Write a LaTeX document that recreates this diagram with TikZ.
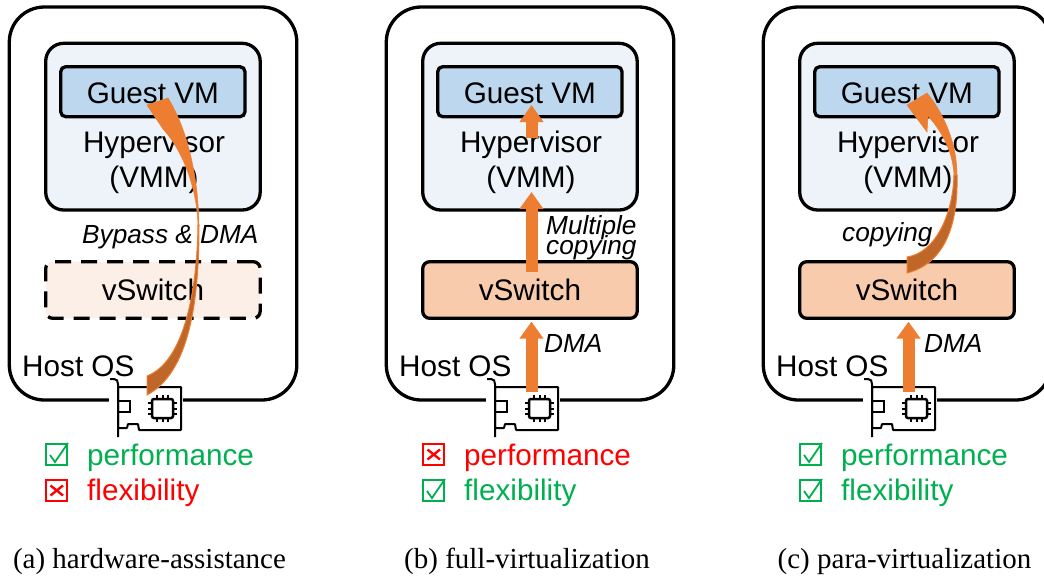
\documentclass[tikz,border=0pt]{standalone}
\usepackage{fontspec}
\setmainfont{Liberation Serif}
\setsansfont{Liberation Sans}
\usetikzlibrary{arrows.meta,positioning}
\definecolor{hyperblue}{HTML}{EEF3FA}
\definecolor{guestblue}{HTML}{BDD7EE}
\definecolor{switchfill}{HTML}{F8CBAD}
\definecolor{switchpale}{HTML}{FBEFE8}
\definecolor{flow}{HTML}{ED7D31}
\definecolor{flowdark}{HTML}{BF6728}
\definecolor{okgreen}{HTML}{00B050}
\tikzset{
  box/.style={draw, line width=3.3pt, rounded corners=9pt, anchor=north west, inner sep=0pt, outer sep=0pt},
  boxtext/.style={font=\sffamily\fontsize{29.7}{35}\selectfont, align=center, inner sep=0pt},
  note/.style={font=\sffamily\itshape\fontsize{26.2}{21}\selectfont, align=left, inner sep=0pt},
  verdict/.style={font=\sffamily\fontsize{29.7}{35}\selectfont, anchor=base west, inner sep=0pt},
  caption/.style={font=\fontsize{29}{34}\selectfont, anchor=base, inner sep=0pt},
  flowarrow/.style={draw=flow, line width=12pt, -{Triangle[width=23pt,length=17pt]}},
  curveback/.style={fill=flow, draw=flow, line width=0.5pt},
  curvefront/.style={fill=flowdark, draw=flow, line width=1pt},
  pics/ticked/.style={code={
    \draw[okgreen, line width=1.4pt] (0,0) rectangle (21,21);
    \draw[okgreen, line width=1.8pt] (4,11) -- (9,18) -- (22,-1);
  }},
  pics/crossed/.style={code={
    \draw[red, line width=1.4pt] (0,0) rectangle (21,21);
    \draw[red, line width=2.4pt] (4.5,5.5) -- (17,15.5) (17,5.5) -- (4.5,15.5);
  }},
  pics/nic/.style={code={
    \fill[white] (109,395) rectangle (183,410);
    \draw[line width=2pt, fill=white, rounded corners=0.5pt] (118,387) -- (181,387) -- (181,430) -- (139,430) -- (138,424) -- (128,424) -- (127,428) -- (118,428) -- cycle;
    \draw[line width=2pt] (110,379) -- (114,379) .. controls (117,379) and (118,381) .. (118,384) -- (118,437);
    \draw[line width=2pt] (118,401) rectangle (130,412);
    \draw[line width=2.5pt, rounded corners=2pt] (152,399) rectangle (173,418);
    \foreach \p in {157,162.5,168} {
      \draw[line width=2pt] (\p,395) -- (\p,399) (\p,418) -- (\p,422);
    }
    \foreach \p in {403,408.5,414} {
      \draw[line width=2pt] (148,\p) -- (152,\p) (173,\p) -- (177,\p);
    }
  }}
}
\begin{document}
\begin{tikzpicture}[x=1pt, y=-1pt]
  \useasboundingbox (0,0) rectangle (1044,579);

  % Boxes shared by the three panels
  \foreach \i/\sx in {0/0,1/377,2/754} {
    \begin{scope}[shift={(\sx,0)}]
      \node[box, rounded corners=35pt, minimum width=287.5pt, minimum height=393pt] (host\i) at (9.3,7) {};
      \node[box, fill=hyperblue, rounded corners=18pt, minimum width=214.5pt, minimum height=166.7pt] (hyper\i) at (45.7,43.3) {};
      \node[box, fill=guestblue, rounded corners=5pt, minimum width=184.3pt, minimum height=50pt] (guest\i) at (60.7,66.7) {};
      \node[boxtext, yshift=-2pt] (guesttext\i) at (guest\i.center) {Guest VM};
      \node[boxtext] (hypertext\i) at (154,162) {Hypervisor\\(VMM)};
      \node[boxtext, anchor=base west] (os\i) at (22,376) {Host OS};
      \pic at (0,0) {nic};
    \end{scope}
  }
  \node[caption] (cap0) at (149.5,568) {(a) hardware-assistance};
  \node[caption] (cap1) at (527,568) {(b) full-virtualization};
  \node[caption] (cap2) at (904.5,568) {(c) para-virtualization};

  % vSwitch
  \node[box, dashed, dash pattern=on 16pt off 10pt, fill=switchpale, rounded corners=7pt, minimum width=214.5pt, minimum height=56.6pt] (vsw0) at (45.7,261.7) {};
  \node[box, fill=switchfill, rounded corners=7pt, minimum width=214.5pt, minimum height=56.6pt] (vsw1) at (422.7,261.7) {};
  \node[box, fill=switchfill, rounded corners=7pt, minimum width=214.5pt, minimum height=56.6pt] (vsw2) at (799.7,261.7) {};
  \node[boxtext] (vswtext0) at (vsw0.center) {vSwitch};
  \node[boxtext] (vswtext1) at (vsw1.center) {vSwitch};
  \node[boxtext] (vswtext2) at (vsw2.center) {vSwitch};

  % Hardware assistance
  \path[curveback] (147,105) -- (168,98) .. controls (185,125) and (198,170) .. (199,225) -- (198,225) .. controls (197,190) and (184,152) .. (163,129) -- cycle;
  \path[curvefront] (199,225) .. controls (199,300) and (190,372) .. (147,395) -- (147,376) .. controls (183,362) and (197,295) .. (198,225) -- cycle;

  % Full virtualization
  \coordinate (nic1) at (531.5,392);
  \coordinate (mid1) at (531.5,272);
  \coordinate (low1) at (531.5,138);
  \coordinate (top1) at (531.5,105);
  \draw[flowarrow, shorten >=3.3pt] (nic1) -- (nic1 |- vsw1.south);
  \draw[flowarrow, shorten >=-18pt] (mid1) -- (mid1 |- hyper1.south);
  \draw[flowarrow] (low1) -- (top1);

  % Para virtualization
  \coordinate (nic2) at (908.5,392);
  \draw[flowarrow, shorten >=3.3pt] (nic2) -- (nic2 |- vsw2.south);
  \path[curveback] (907,105) -- (927,93) .. controls (945,115) and (957,145) .. (957,175) -- (954,175) .. controls (953,155) and (945,135) .. (928,116) -- (927,132) -- cycle;
  \path[curvefront] (957,175) .. controls (958,215) and (950,262) .. (907,273) -- (907,257) .. controls (935,253) and (953,215) .. (954,175) -- cycle;

  % Notes
  \node[note, anchor=base west] (bypass) at (82,243) {Bypass \& DMA};
  \node[note, anchor=base west] (multi) at (546,254) {Multiple\\[-6pt]copying};
  \node[note, anchor=base west] (dma1) at (544,352) {DMA};
  \node[note, anchor=base west] (copy2) at (842,241) {copying};
  \node[note, anchor=base west] (dma2) at (924,352) {DMA};

  % Verdicts
  \pic at (46,444) {ticked};
  \pic at (46,480) {crossed};
  \node[verdict, text=okgreen] (perf0) at (87,465) {performance};
  \node[verdict, text=red] (flex0) at (87,500) {flexibility};
  \pic at (423,444) {crossed};
  \pic at (423,480) {ticked};
  \node[verdict, text=red] (perf1) at (464,465) {performance};
  \node[verdict, text=okgreen] (flex1) at (464,500) {flexibility};
  \pic at (800,444) {ticked};
  \pic at (800,480) {ticked};
  \node[verdict, text=okgreen] (perf2) at (841,465) {performance};
  \node[verdict, text=okgreen] (flex2) at (841,500) {flexibility};
\end{tikzpicture}
\end{document}
